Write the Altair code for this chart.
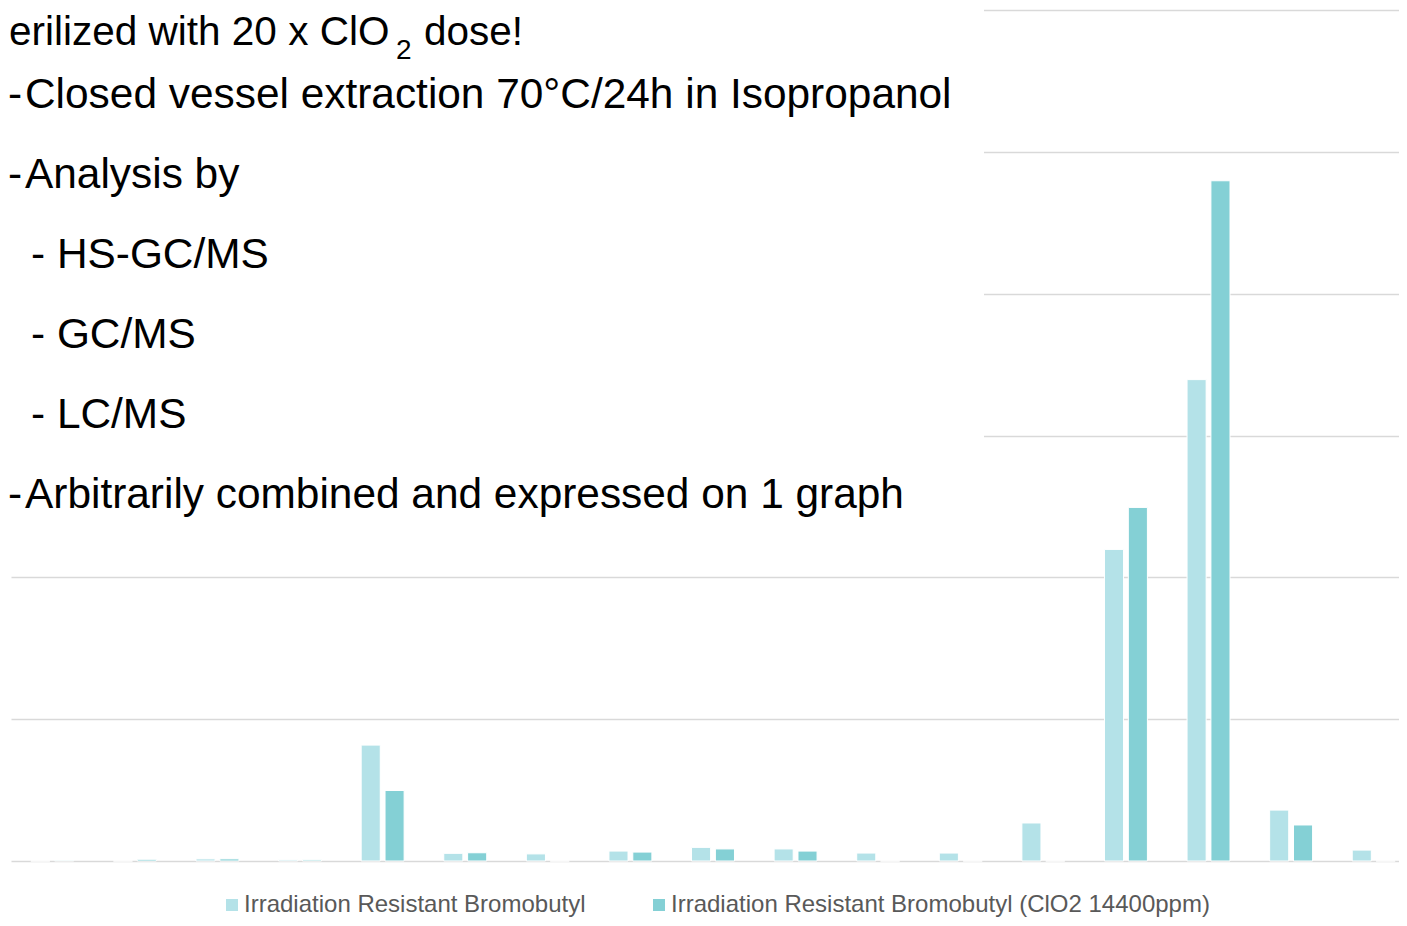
import altair as alt
import pandas as pd

# ---- data (one grid step = 100 units) ----
categories = [str(i) for i in range(1, 18)]
series_names = [
    "Irradiation Resistant Bromobutyl",
    "Irradiation Resistant Bromobutyl (ClO2 14400ppm)",
]
values_plain = [0, 0, 1.5, 0.8, 81.7, 5.4, 5.0, 7.0, 9.6, 8.5, 5.6, 5.6, 26.8, 219.7, 339.4, 35.9, 7.7]
values_clo2 = [0.5, 1.2, 1.5, 0.8, 49.7, 5.8, 0, 6.3, 8.5, 7.0, 0, 0, 0, 249.3, 479.6, 25.4, 0]
grid_values = [0, 100, 200, 300, 400, 500, 600]
colors = ["#B4E2E8", "#84D0D5"]

text_first = ["erilized with 20 x ClO", "2", "dose!"]
text_bullets = [
    "Closed vessel extraction 70°C/24h in Isopropanol",
    "Analysis by",
    "- HS-GC/MS",
    "- GC/MS",
    "- LC/MS",
    "Arbitrarily combined and expressed on 1 graph",
]

rows = []
for i, c in enumerate(categories):
    rows.append({"cat": c, "series": series_names[0], "value": values_plain[i]})
    rows.append({"cat": c, "series": series_names[1], "value": values_clo2[i]})
df = pd.DataFrame(rows)

FONT = "Liberation Sans"

bars = alt.Chart(df).mark_bar(stroke="white", strokeWidth=1).encode(
    x=alt.X("cat:N", sort=categories, axis=None,
            scale=alt.Scale(paddingInner=0.48, paddingOuter=0.24, range=[0, 1404])),
    xOffset=alt.XOffset("series:N", sort=series_names,
                        scale=alt.Scale(paddingInner=0.2, paddingOuter=0)),
    y=alt.Y("value:Q", scale=alt.Scale(domain=[0, 600], nice=False),
            axis=alt.Axis(values=grid_values, grid=True, labels=False, ticks=False,
                          domain=False, title=None, gridColor="#D9D9D9", gridWidth=1.6)),
    color=alt.Color("series:N",
                    scale=alt.Scale(domain=series_names, range=colors),
                    legend=alt.Legend(orient="none", legendX=209, legendY=883,
                                      direction="horizontal", title=None,
                                      symbolType="square", symbolSize=144,
                                      symbolStrokeWidth=0, labelOffset=0,
                                      columnPadding=61, labelFontSize=24,
                                      labelFont=FONT, labelColor="#595959",
                                      labelLimit=0)),
)

cover = alt.Chart(pd.DataFrame({"k": [0]})).mark_rect(color="white").encode(
    x=alt.value(-20), x2=alt.value(973), y=alt.value(-20), y2=alt.value(555)
)


def line(t, x, y, size=42.4, align="left"):
    return alt.Chart(pd.DataFrame({"t": [t]})).mark_text(
        font=FONT, fontSize=size, color="black", align=align, baseline="alphabetic"
    ).encode(text="t:N", x=alt.value(x), y=alt.value(y))


# plot origin sits at page (11, 10)
texts = [
    line(text_first[0], -2, 35, size=40.5),
    line(text_first[1], 385, 49, size=28),
    line(text_first[2], 413, 35, size=40.5),
    line("-", -3, 98),
    line(text_bullets[0], 14, 98),
    line("-", -3, 178),
    line(text_bullets[1], 14, 178),
    line(text_bullets[2], 20, 258),
    line(text_bullets[3], 20, 338),
    line(text_bullets[4], 20, 418),
    line("-", -3, 498),
    line(text_bullets[5], 14, 498),
]

chart = alt.layer(bars, cover, *texts).properties(
    width=1388, height=851,
    padding={"left": 3, "top": 2, "right": 0, "bottom": 57},
    autosize=alt.AutoSizeParams(type="none"),
).configure_view(stroke=None)

chart.save("out.html", embed_options={"renderer": "svg", "actions": False})
